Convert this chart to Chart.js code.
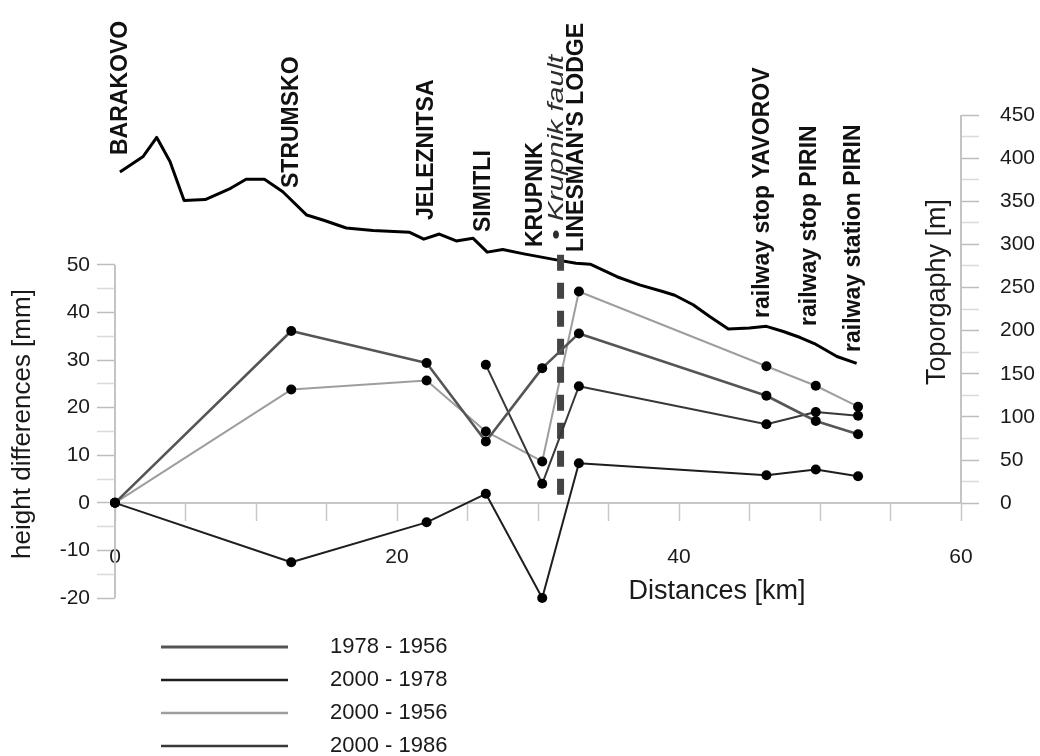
<!DOCTYPE html>
<html>
<head>
<meta charset="utf-8">
<script src="https://cdn.jsdelivr.net/npm/chart.js@4.4.1/dist/chart.umd.min.js"></script>
<style>
html,body{margin:0;padding:0;background:#fff;}
canvas{display:block;}
</style>
</head>
<body>
<canvas id="c" width="1040" height="756"></canvas>
<script>
// ---------- data ----------
const stationNames = ['BARAKOVO', 'STRUMSKO', 'JELEZNITSA', 'SIMITLI', 'KRUPNIK',
  "LINESMAN'S LODGE", 'railway stop YAVOROV', 'railway stop PIRIN', 'railway station PIRIN'];
const stationKm = [0, 12.5, 22.1, 26.3, 30.3, 32.9, 46.2, 49.7, 52.7];

const seriesLabels = ['1978 - 1956', '2000 - 1978', '2000 - 1956', '2000 - 1986'];
const d1978_1956 = [0, 36.1, 29.4, 12.9, 28.3, 35.6, 22.5, 17.2, 14.4];
const d2000_1978 = [0, -12.5, -4.1, 1.9, -20.0, 8.3, 5.8, 7.0, 5.6];
const d2000_1956 = [0, 23.8, 25.7, 15.0, 8.7, 44.4, 28.7, 24.6, 20.2];
const d2000_1986 = [null, null, null, 29.0, 4.0, 24.5, 16.5, 19.1, 18.3];

const topoKm   = [0.35, 2.0, 2.96, 3.9, 4.9, 6.4, 8.2, 9.3, 10.6, 11.9, 13.6, 14.8, 16.4, 18.3, 20.9, 21.9, 23.0, 24.2, 25.4, 26.4, 27.5, 29.0, 31.3, 32.7, 33.7, 35.6, 37.2, 38.9, 39.7, 41.0, 42.2, 43.5, 45.0, 46.2, 47.4, 48.6, 49.6, 51.2, 52.6];
const topoElev = [384, 402, 424, 396, 351, 352, 365, 375.5, 375.5, 361, 334, 328, 319, 316, 314, 306, 312, 304, 307, 291, 294, 289, 282, 278, 277, 262.5, 253, 245, 241, 230, 216, 202, 203, 205, 199, 192, 185, 170, 162];

const faultKm = 31.6;
const faultSpan = [1.7, 53.6];
const faultLabel = '\u2022 Krupnik fault';

const xTickLabels = [0, 20, 40, 60];
const leftTickLabels = [-20, -10, 0, 10, 20, 30, 40, 50];
const rightTickLabels = [0, 50, 100, 150, 200, 250, 300, 350, 400, 450];

// ---------- layout / style (not data) ----------
const FONT = "'Liberation Sans', Arial, sans-serif";
const labelDx = [5.5, 0, 0, -2.5, -6.5, -2.5, -4, -6, -4];
const labelBottom = [155, 188, 220, 232, 247, 252, 318, 326, 352];
const seriesStyle = [
  {color: '#555555', width: 2.6},
  {color: '#1e1e1e', width: 2},
  {color: '#9e9e9e', width: 2},
  {color: '#383838', width: 2}
];
const legendRows = [647, 680, 713, 746];

function pts(xs, ys) {
  const out = [];
  xs.forEach((x, i) => { if (ys[i] !== null && ys[i] !== undefined) out.push({x: x, y: ys[i]}); });
  return out;
}

const seriesData = [d1978_1956, d2000_1978, d2000_1956, d2000_1986];
const seriesDatasets = seriesData.map((arr, i) => ({
  label: seriesLabels[i],
  data: pts(stationKm, arr),
  yAxisID: 'yL',
  borderColor: seriesStyle[i].color,
  borderWidth: seriesStyle[i].width,
  pointRadius: 5,
  pointBackgroundColor: '#000',
  pointBorderWidth: 0,
  tension: 0,
  fill: false,
  clip: false,
  order: i === 2 ? 3 : 1
}));

const datasets = seriesDatasets.concat([
  {
    label: 'fault',
    data: [{x: faultKm, y: faultSpan[0]}, {x: faultKm, y: faultSpan[1]}],
    yAxisID: 'yL',
    borderColor: '#444',
    borderWidth: 7,
    borderDash: [16, 12],
    borderCapStyle: 'butt',
    pointRadius: 0,
    fill: false,
    order: 2
  },
  {
    label: 'topography',
    data: pts(topoKm, topoElev),
    yAxisID: 'yR',
    borderColor: '#000',
    borderWidth: 3,
    pointRadius: 0,
    tension: 0,
    fill: false,
    order: 4
  }
]);

function rotText(ctx, text, x, y, font, color, align, sx) {
  ctx.save();
  ctx.translate(x, y);
  ctx.rotate(-Math.PI / 2);
  ctx.scale(sx || 1, 1);
  ctx.font = font;
  ctx.fillStyle = color;
  ctx.textAlign = align;
  ctx.textBaseline = 'middle';
  ctx.fillText(text, 0, 0);
  ctx.restore();
}

const decor = {
  id: 'decor',
  beforeDatasetsDraw(chart) {
    const {ctx} = chart;
    const {x, yL, yR} = chart.scales;
    ctx.save();
    ctx.strokeStyle = '#c4c4c4';
    ctx.lineWidth = 2;
    const xl = x.getPixelForValue(0);
    ctx.beginPath();
    ctx.moveTo(xl, yL.getPixelForValue(50));
    ctx.lineTo(xl, yL.getPixelForValue(-20));
    ctx.stroke();
    const xr = x.getPixelForValue(60);
    ctx.beginPath();
    ctx.moveTo(xr, yR.getPixelForValue(450));
    ctx.lineTo(xr, yR.getPixelForValue(0));
    ctx.stroke();
    ctx.restore();
  },
  afterDraw(chart) {
    const {ctx} = chart;
    const {x} = chart.scales;
    stationNames.forEach((name, i) => {
      rotText(ctx, name, x.getPixelForValue(stationKm[i]) + labelDx[i], labelBottom[i],
        'bold 23px ' + FONT, '#111', 'left', 1);
    });
    rotText(ctx, faultLabel, x.getPixelForValue(faultKm) - 4, 240, 'italic 22px ' + FONT, '#2e2e2e', 'left', 1.36);
    rotText(ctx, 'height differences [mm]', 23, 424, '26px ' + FONT, '#1a1a1a', 'center', 1);
    rotText(ctx, 'Toporgaphy [m]', 938, 292, '27px ' + FONT, '#1a1a1a', 'center', 1);
    ctx.save();
    ctx.font = '27px ' + FONT;
    ctx.fillStyle = '#1a1a1a';
    ctx.textAlign = 'center';
    ctx.textBaseline = 'middle';
    ctx.fillText('Distances [km]', 717, 592);
    ctx.font = '22px ' + FONT;
    ctx.textAlign = 'left';
    seriesLabels.forEach((lab, i) => {
      const y = legendRows[i];
      ctx.strokeStyle = seriesStyle[i].color;
      ctx.lineWidth = seriesStyle[i].width + 0.5;
      ctx.beginPath();
      ctx.moveTo(161, y);
      ctx.lineTo(288, y);
      ctx.stroke();
      ctx.fillStyle = '#1a1a1a';
      ctx.fillText(lab, 330, y);
    });
    ctx.restore();
  }
};

const tickFont = {family: FONT, size: 21};

new Chart(document.getElementById('c'), {
  type: 'line',
  data: {datasets: datasets},
  options: {
    responsive: false,
    animation: false,
    layout: {padding: {top: 115, bottom: 158, left: 0, right: 0}},
    plugins: {legend: {display: false}, tooltip: {enabled: false}},
    elements: {line: {borderJoinStyle: 'round'}},
    scales: {
      x: {
        type: 'linear',
        position: {yL: 0},
        min: 0, max: 60,
        border: {display: true, color: '#c8c8c8', width: 2},
        grid: {drawOnChartArea: false, drawTicks: true, tickLength: 17, tickColor: '#c8c8c8', tickWidth: 1.5},
        ticks: {
          stepSize: 5, autoSkip: false, maxRotation: 0, minRotation: 0, padding: 25,
          font: tickFont, color: '#1a1a1a',
          callback: v => xTickLabels.includes(v) ? String(v) : ''
        },
        title: {display: false}
      },
      yL: {
        type: 'linear',
        position: 'left',
        min: -20, max: 81.5,
        afterFit: s => { s.width = 115; },
        afterBuildTicks: s => { s.ticks = s.ticks.filter(t => t.value >= -20 && t.value <= 50); },
        border: {display: false},
        grid: {
          drawOnChartArea: false, drawTicks: true, tickLength: 18, tickWidth: 1.5,
          tickColor: c => (c.tick && c.tick.value % 10 === 0) ? '#bdbdbd' : '#dadada'
        },
        ticks: {
          stepSize: 5, autoSkip: false, maxTicksLimit: 1000, padding: 7,
          font: tickFont, color: '#1a1a1a',
          callback: v => leftTickLabels.includes(v) ? String(v) : ''
        }
      },
      yR: {
        type: 'linear',
        position: 'right',
        min: -110, max: 450,
        afterFit: s => { s.width = 79; },
        afterBuildTicks: s => { s.ticks = s.ticks.filter(t => t.value >= 0 && t.value <= 450); },
        border: {display: false},
        grid: {
          drawOnChartArea: false, drawTicks: true, tickLength: 18, tickWidth: 1.5,
          tickColor: c => (c.tick && c.tick.value % 50 === 0) ? '#bdbdbd' : '#dadada'
        },
        ticks: {
          stepSize: 25, autoSkip: false, maxTicksLimit: 1000, padding: 21,
          font: tickFont, color: '#1a1a1a',
          callback: v => rightTickLabels.includes(v) ? String(v) : ''
        }
      }
    }
  },
  plugins: [decor]
});
</script>
</body>
</html>
